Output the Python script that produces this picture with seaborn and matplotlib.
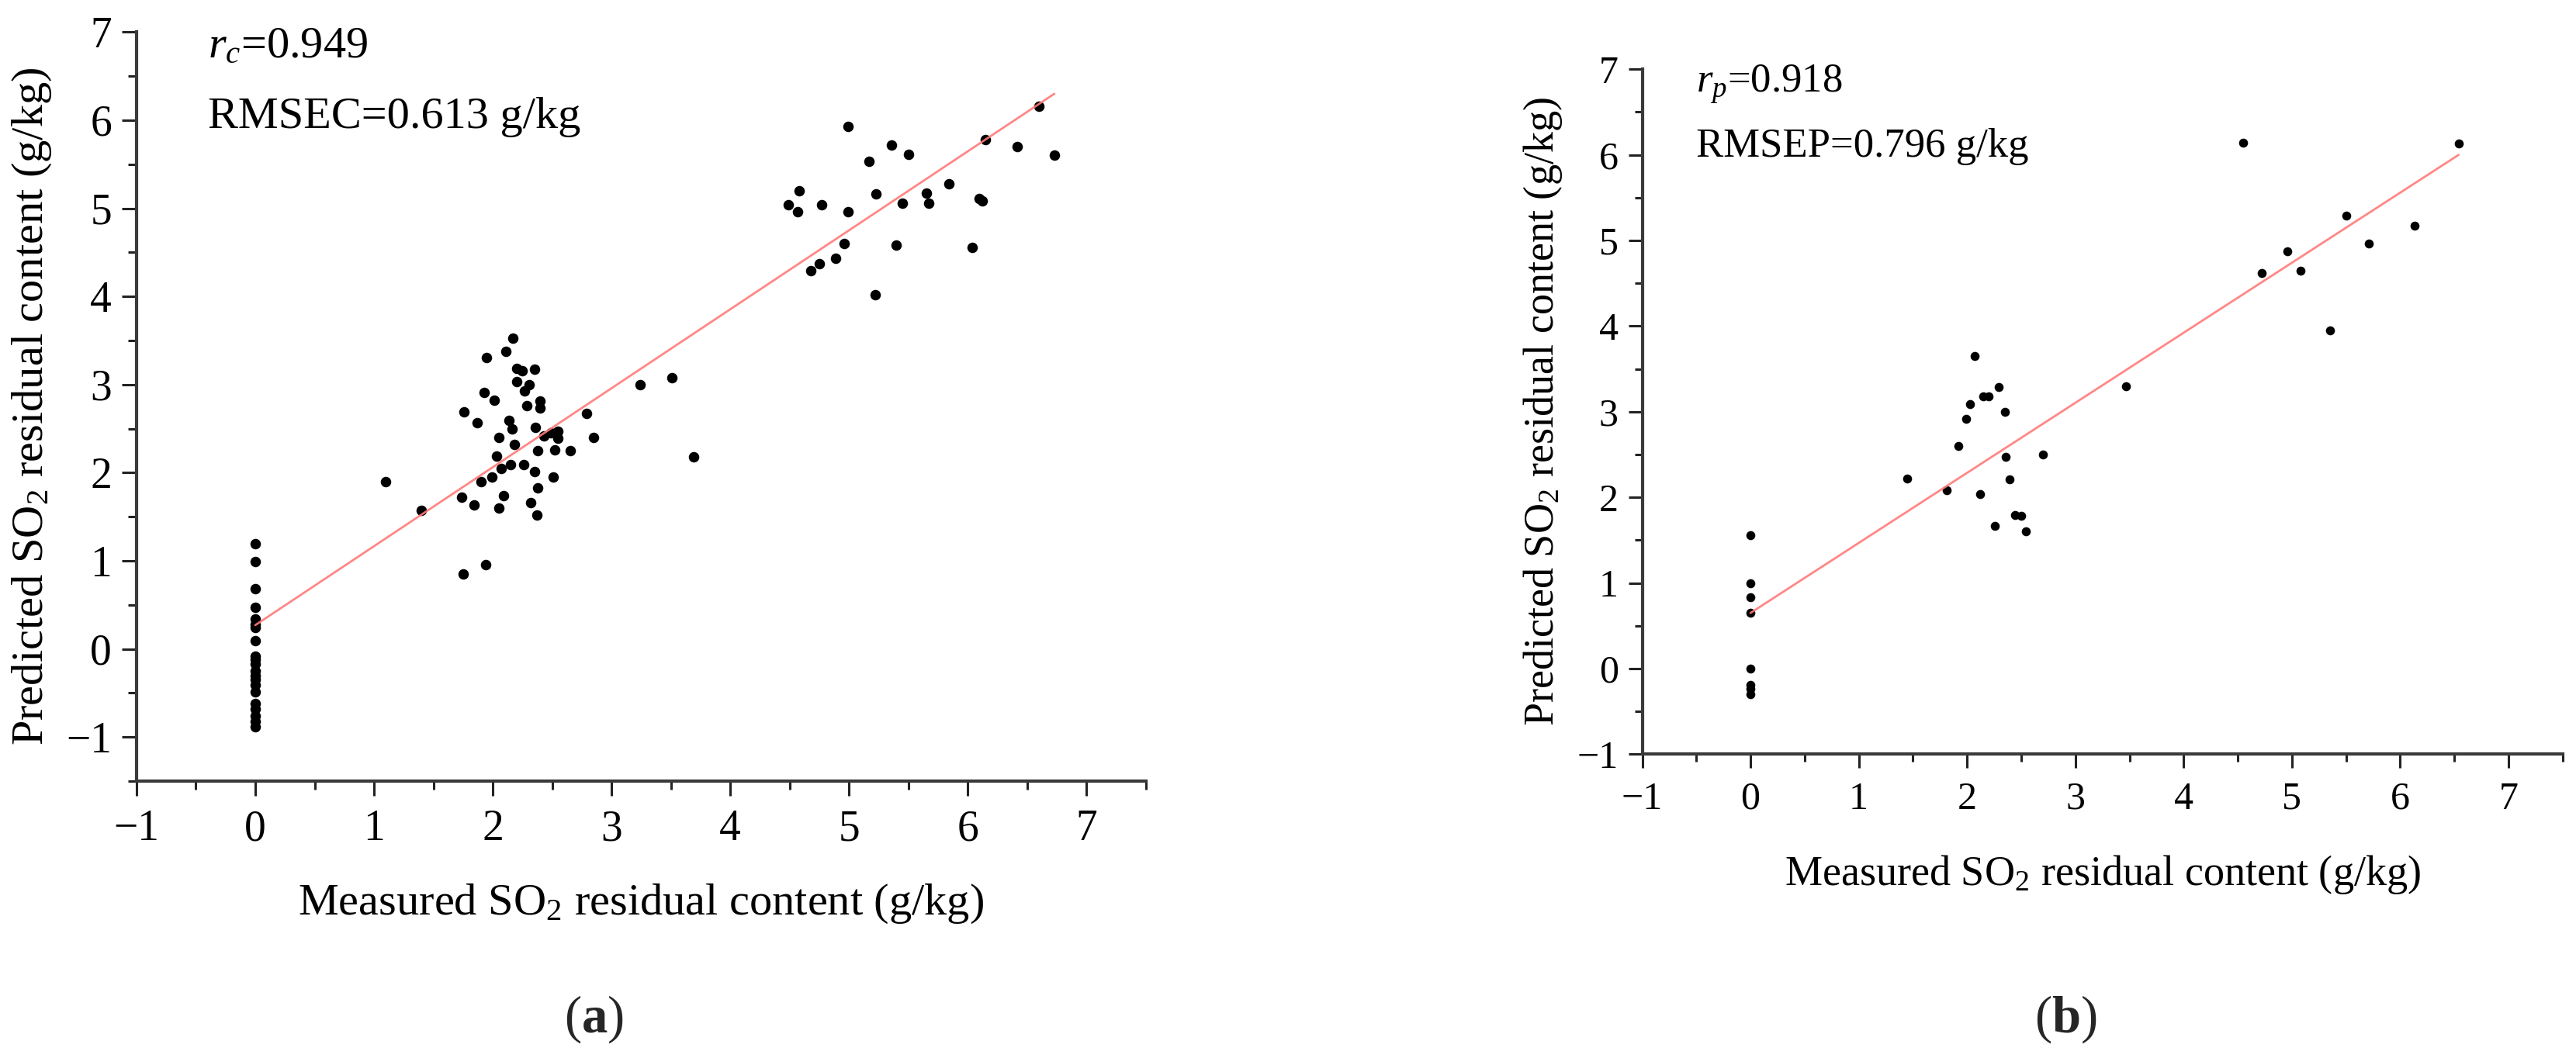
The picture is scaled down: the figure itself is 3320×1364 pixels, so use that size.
import numpy as np
import pandas as pd
import matplotlib
matplotlib.use("Agg")
import matplotlib.pyplot as plt
import seaborn as sns

# ---------------- data ----------------
# Panel (a): calibration set
cal_measured = [0.0] * 21 + [
    1.10, 1.40, 1.74, 1.84, 1.90, 1.99, 2.03, 2.07, 2.15, 2.26, 2.35, 2.51, 2.38,
    2.09, 2.05, 2.32, 2.37, 1.75, 1.94,
    2.17, 2.11, 1.95, 2.20, 2.25, 2.35, 2.20, 2.31, 2.27, 1.93, 2.01, 2.29, 2.40,
    2.40, 1.76, 1.87, 2.14, 2.16, 2.36, 2.43, 2.49, 2.55, 2.55, 2.05, 2.18, 2.79,
    2.85, 2.38, 2.52, 2.65, 3.24, 3.51, 3.69,
    4.99, 5.36, 5.50, 5.17, 6.60, 6.15, 6.42, 6.73, 4.58, 4.49, 4.57, 4.77, 4.99,
    5.23, 5.45, 5.65, 5.67, 5.84, 6.10, 6.12, 4.96, 5.40, 6.04, 4.89, 4.75, 4.68,
    5.22,
]
cal_predicted = [
    1.19, 0.99, 0.68, 0.47, 0.34, 0.28, 0.24, 0.09, -0.08, -0.12, -0.17, -0.25,
    -0.30, -0.35, -0.41, -0.49, -0.62, -0.68, -0.76, -0.82, -0.88,
    1.90, 1.57, 1.72, 1.63, 1.90, 1.95, 2.19, 2.05, 2.09, 2.09, 2.01, 1.95, 1.83,
    1.74, 1.60, 1.66, 1.52, 0.85, 0.96,
    3.53, 3.38, 3.31, 3.18, 3.16, 3.17, 3.03, 3.00, 2.93, 2.91, 2.82, 2.76, 2.81,
    2.73, 2.69, 2.57, 2.59, 2.50, 2.51, 2.42, 2.45, 2.47, 2.39, 2.40, 2.32, 2.67,
    2.40, 2.25, 2.26, 2.25, 3.00, 3.08, 2.18,
    5.93, 5.72, 5.61, 5.53, 6.16, 5.78, 5.70, 5.60, 5.20, 5.04, 4.96, 5.04, 4.96,
    5.16, 5.06, 5.17, 5.06, 5.28, 5.11, 5.08, 4.60, 4.58, 4.56, 4.43, 4.37, 4.29,
    4.02,
]
cal_fit = {"intercept": 0.27, "slope": 0.896}
cal_text = [r"$r_c$=0.949", "RMSEC=0.613 g/kg"]

# Panel (b): prediction set
pre_measured = [0.0] * 8 + [
    1.45, 1.81, 2.12, 2.26, 2.36, 2.39, 2.44, 2.50, 2.54, 2.70, 2.07, 2.29, 2.15,
    2.20, 2.03, 2.35, 1.99, 1.92, 4.55, 6.54, 5.50, 6.13, 5.71, 4.96, 4.72, 5.08,
    5.35, 3.47,
]
pre_predicted = [
    1.56, 1.00, 0.83, 0.65, 0.00, -0.19, -0.24, -0.30,
    2.22, 2.08, 2.04, 1.67, 2.47, 2.21, 1.79, 1.78, 1.60, 2.50, 3.65, 3.29, 3.18,
    3.18, 3.09, 3.00, 2.92, 2.60, 6.14, 6.13, 5.29, 5.17, 4.96, 4.87, 4.62, 4.65,
    3.95, 3.30,
]
pre_fit = {"intercept": 0.65, "slope": 0.818}
pre_text = [r"$r_p$=0.918", "RMSEP=0.796 g/kg"]

x_major = list(range(-1, 8))
y_major = list(range(-1, 8))
x_label = r"Measured SO$_2$ residual content (g/kg)"
y_label = r"Predicted SO$_2$ residual content (g/kg)"
captions = [r"($\mathbf{a}$)", r"($\mathbf{b}$)"]

# ---------------- style ----------------
sns.set_theme(style="ticks")
plt.rcParams["font.family"] = ["Liberation Serif", "DejaVu Serif"]
plt.rcParams["mathtext.fontset"] = "custom"
plt.rcParams["mathtext.rm"] = "Liberation Serif"
plt.rcParams["mathtext.it"] = "Liberation Serif:italic"
plt.rcParams["mathtext.bf"] = "Liberation Serif:bold"
plt.rcParams["axes.unicode_minus"] = True

fig = plt.figure(figsize=(33.2, 13.64), dpi=100)
fig.patch.set_facecolor("white")

ax_a = fig.add_axes([0.0530, 0.2617, 0.3918, 0.7080])
ax_b = fig.add_axes([0.6375, 0.2871, 0.3573, 0.6475])

def draw_panel(ax, mx, py, fit, texts, ylim, s, fs_tick, fs_label, fs_text,
               maj_len, min_len, xlab_y, ylab_x, text_x, text_y):
    df = pd.DataFrame({"measured": mx, "predicted": py})
    sns.scatterplot(data=df, x="measured", y="predicted", ax=ax, color="black",
                    s=s, linewidth=0, zorder=3, legend=False)
    xs = np.array([df["measured"].min(), df["measured"].max()])
    line_df = pd.DataFrame({"x": xs, "y": fit["intercept"] + fit["slope"] * xs})
    sns.lineplot(data=line_df, x="x", y="y", ax=ax, color="#ff7a7a", lw=2.0,
                 zorder=4, alpha=0.9)
    ax.set_xlim(-1, 7.5)
    ax.set_ylim(*ylim)
    ax.set_xticks(x_major)
    ax.set_yticks(y_major)
    ax.set_xticks(np.arange(-0.5, 7.6, 1.0), minor=True)
    ax.set_yticks(np.arange(ylim[0] if ylim[0] % 1 else ylim[0] + 0.5, 7.0, 1.0),
                  minor=True)
    for sp in ["top", "right"]:
        ax.spines[sp].set_visible(False)
    for sp in ["left", "bottom"]:
        ax.spines[sp].set_linewidth(3.0)
        ax.spines[sp].set_color("#3a3a3a")
    ax.tick_params(which="major", direction="out", length=maj_len, width=2.2,
                   color="#222222", labelsize=fs_tick, labelcolor="black")
    ax.tick_params(which="minor", direction="out", length=min_len, width=2.2,
                   color="#222222")
    ax.tick_params(axis="x", which="major", pad=12)
    ax.tick_params(axis="y", which="major", pad=9)
    ax.set_xlabel(x_label, fontsize=fs_label, color="black")
    ax.set_ylabel(y_label, fontsize=fs_label, color="black")
    ax.xaxis.set_label_coords(0.5, xlab_y)
    ax.yaxis.set_label_coords(ylab_x, 0.5)
    ax.text(text_x, text_y[0], texts[0], transform=ax.transAxes,
            fontsize=fs_text, va="baseline", ha="left", color="black")
    ax.text(text_x, text_y[1], texts[1], transform=ax.transAxes,
            fontsize=fs_text, va="baseline", ha="left", color="black")
    ax.set_facecolor("white")
    ax.grid(False)

draw_panel(ax_a, cal_measured, cal_predicted, cal_fit, cal_text, (-1.5, 7),
           s=95, fs_tick=40, fs_label=42, fs_text=42, maj_len=14, min_len=8,
           xlab_y=-0.135, ylab_x=-0.082, text_x=0.0707,
           text_y=(0.9655, 0.8716))
draw_panel(ax_b, pre_measured, pre_predicted, pre_fit, pre_text, (-1, 7),
           s=70, fs_tick=36, fs_label=39, fs_text=38, maj_len=13, min_len=7,
           xlab_y=-0.145, ylab_x=-0.085, text_x=0.0586,
           text_y=(0.9662, 0.8723))

fig.text(765 / 3320, 1 - 1314 / 1364, captions[0], fontsize=48,
         ha="center", va="center")
fig.text(2662 / 3320, 1 - 1314 / 1364, captions[1], fontsize=48,
         ha="center", va="center")

fig.savefig("out.png", dpi=100, facecolor="white")
